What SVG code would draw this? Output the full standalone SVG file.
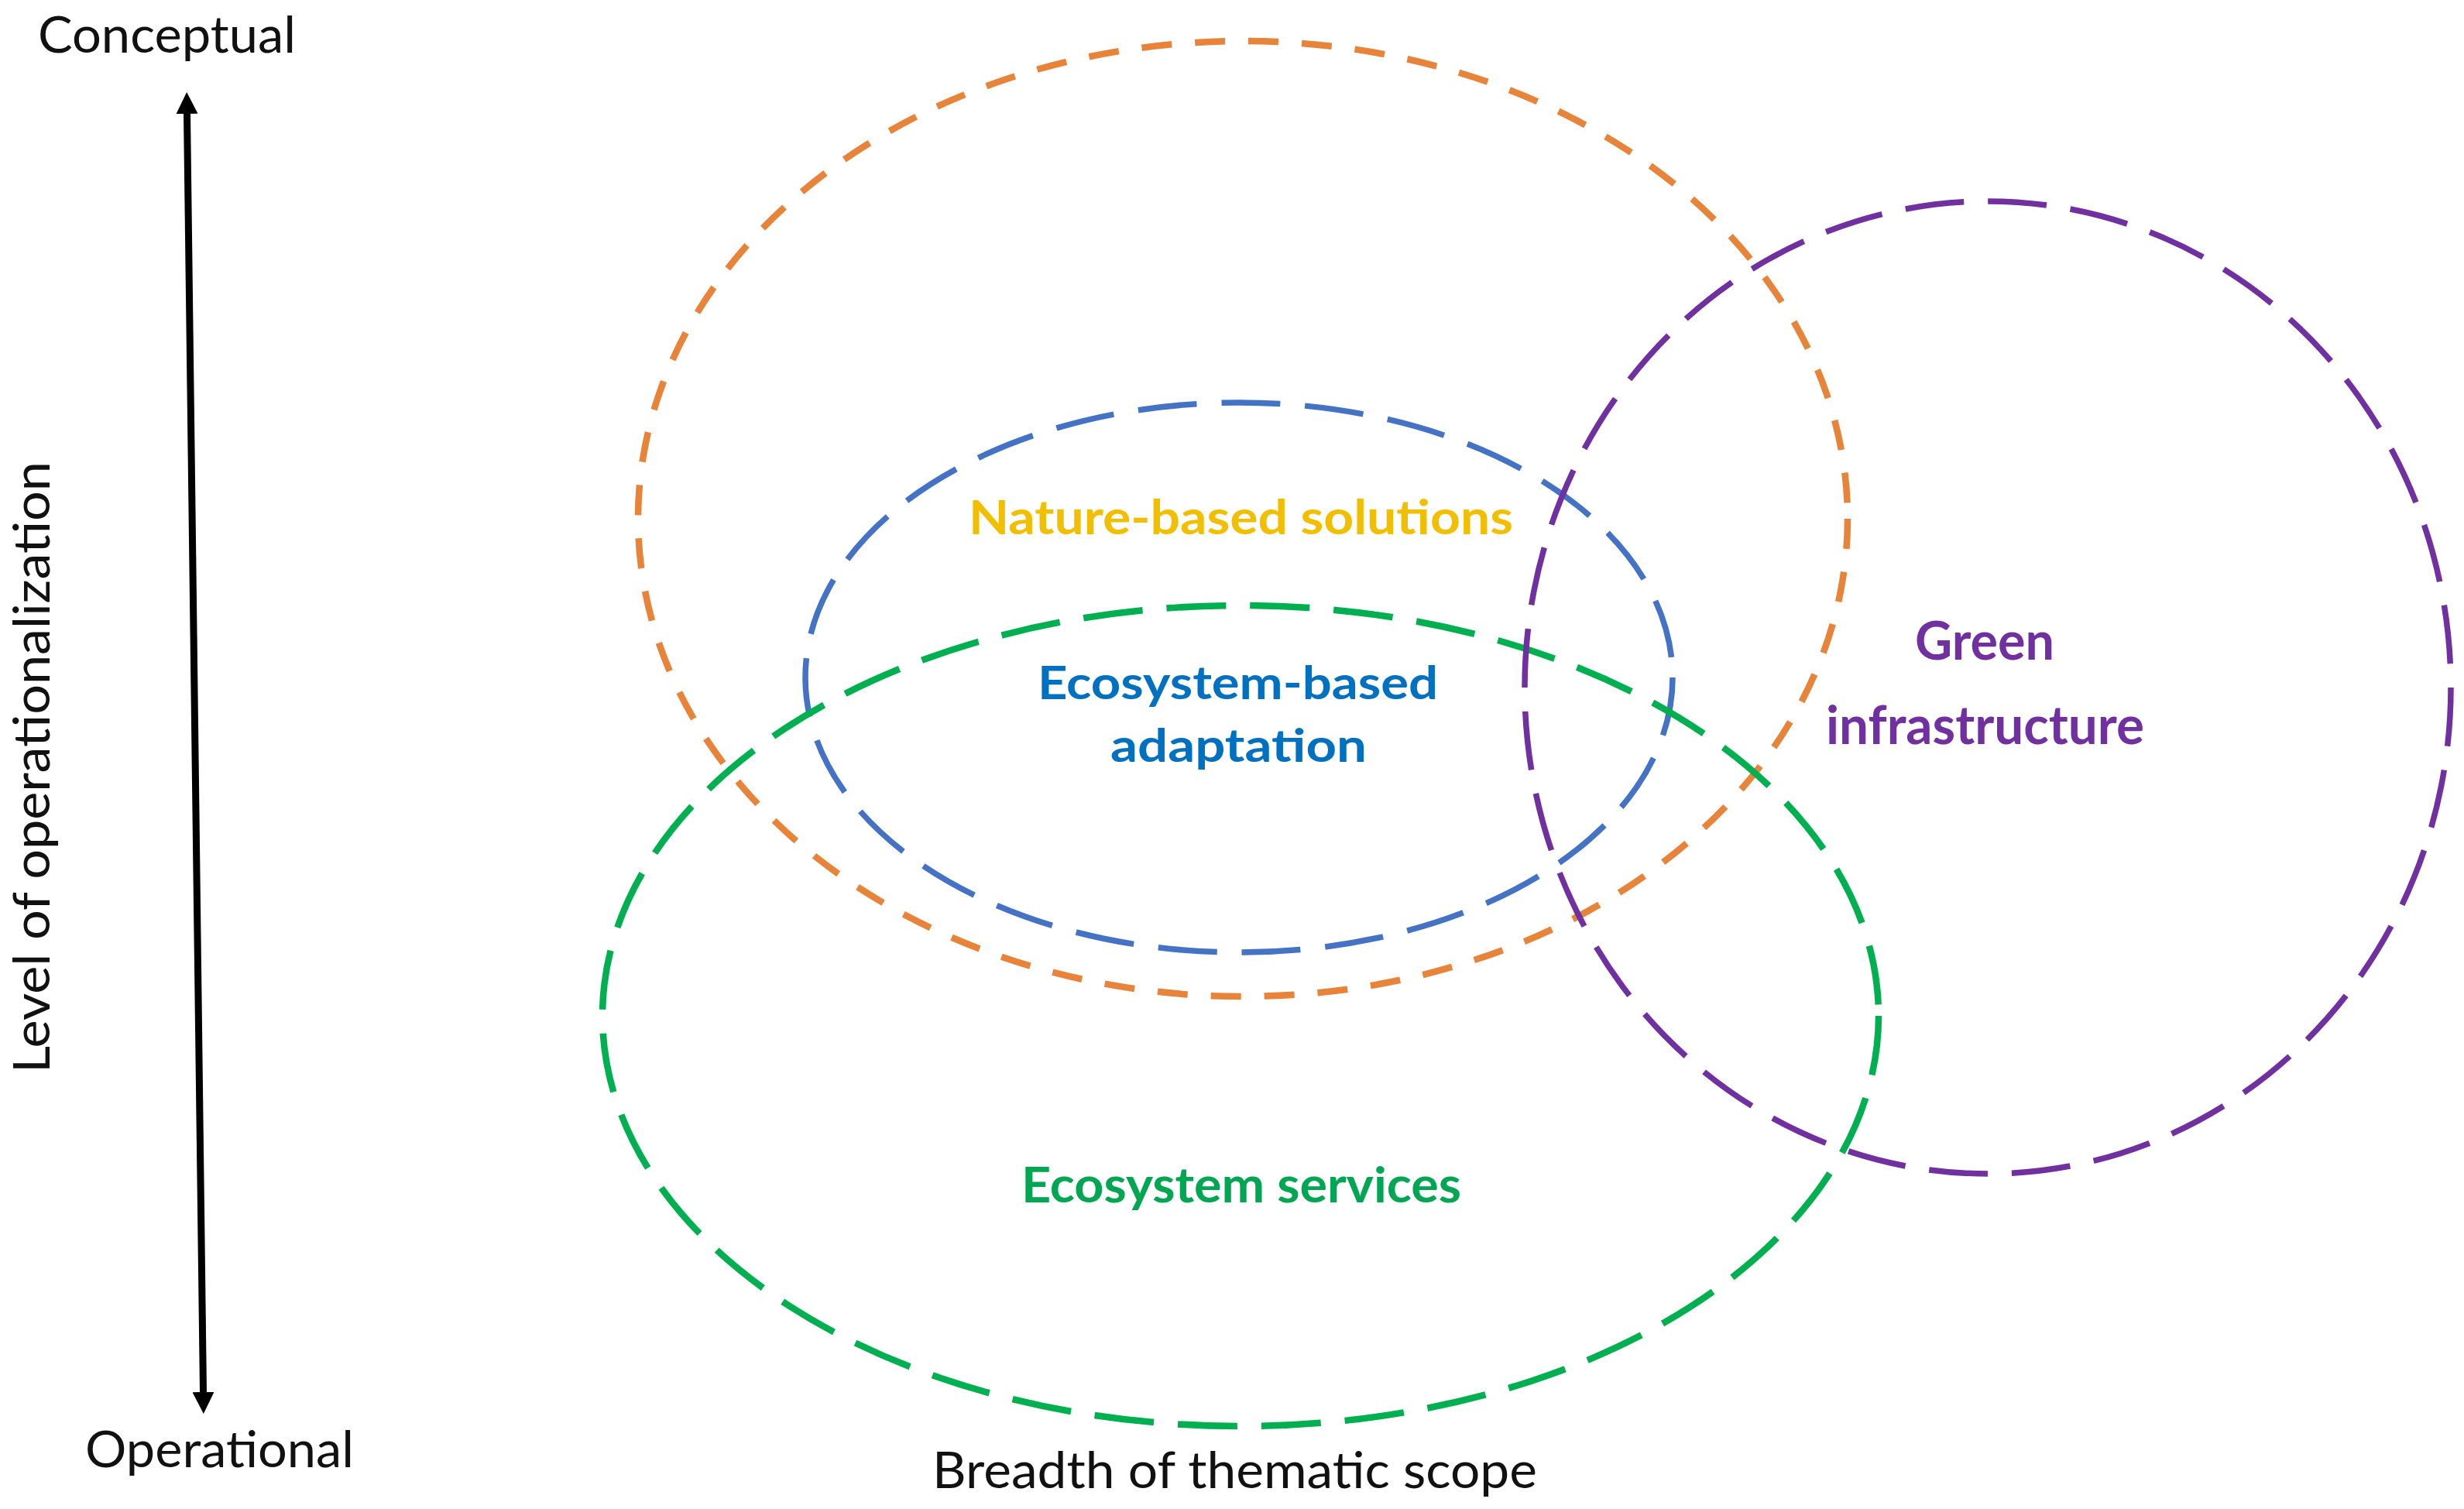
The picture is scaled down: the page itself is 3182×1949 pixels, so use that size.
<svg xmlns="http://www.w3.org/2000/svg" width="3182" height="1949" viewBox="0 0 3182 1949">
  <style>
    .axis { font-family: Lato, "Open Sans", "Liberation Sans", sans-serif; font-size: 65px; fill: #111111; }
    .lbl { font-family: Lato, "Open Sans", "Liberation Sans", sans-serif; font-weight: bold; }
    .ell { fill: none; }
  </style>
  <defs>
    <marker id="ah" viewBox="0 0 28 28" refX="0" refY="14" markerWidth="28" markerHeight="28" markerUnits="userSpaceOnUse" orient="auto-start-reverse">
      <path d="M0,0 L28,14 L0,28 z" fill="#000000"/>
    </marker>
  </defs>
  <rect width="3182" height="1949" fill="#ffffff"/>

  <g id="connectors">
    <line x1="241.5" y1="147" x2="262.5" y2="1798" stroke="#000000" stroke-width="9" marker-start="url(#ah)" marker-end="url(#ah)"/>
  </g>

  <g id="nature-based-solutions">
    <ellipse class="ell" cx="1605" cy="670" rx="781" ry="617" stroke="#E8833A" stroke-width="8.5" stroke-dasharray="39 30"/>
  </g>
  <g id="ecosystem-based-adaptation">
    <ellipse class="ell" cx="1600" cy="875" rx="560" ry="355" stroke="#4472C4" stroke-width="7.5" stroke-dasharray="76 32"/>
  </g>
  <g id="ecosystem-services">
    <ellipse class="ell" cx="1602" cy="1312" rx="824" ry="530" stroke="#00B050" stroke-width="8.5" stroke-dasharray="77 31"/>
  </g>
  <g id="green-infrastructure">
    <ellipse class="ell" cx="2567" cy="888" rx="598" ry="628" stroke="#7030A0" stroke-width="7.5" stroke-dasharray="76 31"/>
  </g>

  <g id="labels">
    <text class="lbl" x="1251" y="690" font-size="61" fill="#F2BE00" textLength="703" lengthAdjust="spacingAndGlyphs">Nature-based solutions</text>
    <text class="lbl" x="1340" y="903" font-size="60" fill="#0070C0" textLength="517" lengthAdjust="spacingAndGlyphs">Ecosystem-based</text>
    <text class="lbl" x="1434" y="984" font-size="60" fill="#0070C0" textLength="331" lengthAdjust="spacingAndGlyphs">adaptation</text>
    <text class="lbl" x="2473" y="852" font-size="68" fill="#7030A0" textLength="180" lengthAdjust="spacingAndGlyphs">Green</text>
    <text class="lbl" x="2358" y="961" font-size="68" fill="#7030A0" textLength="411" lengthAdjust="spacingAndGlyphs">infrastructure</text>
    <text class="lbl" x="1319" y="1553" font-size="64" fill="#00A651" textLength="568" lengthAdjust="spacingAndGlyphs">Ecosystem services</text>
  </g>

  <g id="axes">
    <text class="axis" x="49" y="68" textLength="333" lengthAdjust="spacingAndGlyphs">Conceptual</text>
    <text class="axis" x="110" y="1895" textLength="347" lengthAdjust="spacingAndGlyphs">Operational</text>
    <text class="axis" x="1204" y="1922" textLength="781" lengthAdjust="spacingAndGlyphs">Breadth of thematic scope</text>
    <text class="axis" transform="translate(64,1386) rotate(-90)" x="0" y="0" textLength="790" lengthAdjust="spacingAndGlyphs">Level of operationalization</text>
  </g>
</svg>
